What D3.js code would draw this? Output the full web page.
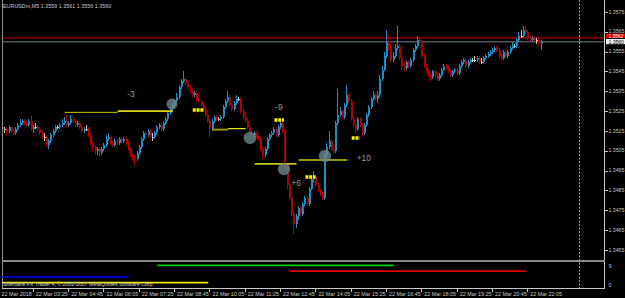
<!DOCTYPE html>
<html><head><meta charset="utf-8">
<script src="https://cdn.jsdelivr.net/npm/d3@7"></script>
<style>html,body{margin:0;padding:0;background:#000;overflow:hidden}</style>
</head><body>
<svg id="c" width="625" height="298"></svg>
<script>
// ---------------- DATA ----------------
const symbolLabel = "EURUSDm,M5";
const lastBarOHLC = "1.3559 1.3561 1.3556 1.3560";
const footerText = "Sberbank FX Trader 4, \u00A9 2001-2007 MetaQuotes Software Corp.";
const firstBarTime = "02:15";   // time of bar 0, M5 bars
const barMinutes = 5;
// prices in pips (1.3516 -> 13516)
const opens = [
13517,13516,13516,13515,13517,13515,13514,13516,13518,13519,
13520,13519,13518,13520,13516,13517,13517,13516,13514,13512,
13512,13508,13510,13513,13515,13517,13517,13518,13519,13520,
13518,13519,13521,13520,13518,13519,13517,13515,13516,13516,
13513,13509,13507,13505,13506,13504,13506,13508,13511,13512,
13509,13508,13510,13509,13511,13510,13511,13509,13506,13503,
13502,13501,13504,13507,13511,13514,13513,13515,13512,13512,
13514,13517,13518,13516,13519,13521,13524,13526,13528,13530,
13532,13537,13540,13541,13539,13537,13535,13533,13534,13531,
13530,13528,13526,13523,13520,13516,13520,13522,13521,13521,
13522,13527,13530,13532,13528,13526,13529,13531,13531,13525,
13522,13520,13517,13514,13513,13514,13512,13511,13506,13503,
13506,13511,13513,13514,13516,13513,13517,13519,13515,13498,
13488,13481,13473,13468,13472,13476,13473,13478,13481,13478,
13486,13491,13492,13488,13485,13483,13481,13503,13507,13510,
13506,13505,13519,13523,13525,13522,13528,13533,13530,13521,
13518,13516,13521,13518,13514,13518,13523,13527,13531,13533,
13531,13533,13541,13546,13553,13560,13558,13551,13553,13557,
13558,13552,13548,13547,13550,13548,13551,13556,13558,13561,
13560,13553,13548,13545,13543,13542,13545,13543,13541,13543,
13546,13548,13547,13545,13543,13545,13546,13544,13548,13550,
13551,13548,13550,13551,13551,13551,13552,13550,13550,13552,
13553,13554,13555,13556,13557,13556,13553,13552,13555,13553,
13555,13557,13558,13558,13561,13563,13563,13566,13565,13562,
13561,13562,13561,13561,13559];
const highs = [
13518,13517,13517,13518,13517,13516,13517,13519,13521,13521,
13521,13520,13521,13523,13518,13519,13518,13517,13515,13514,
13513,13511,13514,13516,13518,13518,13519,13521,13522,13523,
13520,13523,13522,13521,13520,13520,13518,13517,13518,13517,
13514,13510,13508,13507,13507,13507,13509,13513,13514,13513,
13510,13511,13511,13512,13512,13512,13512,13510,13507,13504,
13503,13505,13508,13512,13515,13515,13516,13516,13514,13515,
13518,13519,13519,13520,13522,13525,13527,13529,13531,13534,
13538,13541,13545,13542,13540,13538,13536,13535,13535,13533,
13531,13529,13527,13524,13521,13521,13523,13523,13522,13523,
13528,13531,13535,13533,13529,13530,13533,13532,13532,13526,
13523,13521,13518,13515,13515,13515,13513,13512,13507,13507,
13512,13514,13515,13517,13517,13518,13521,13520,13516,13499,
13489,13482,13474,13473,13477,13477,13479,13482,13482,13487,
13492,13495,13493,13489,13486,13484,13504,13509,13515,13511,
13507,13520,13536,13527,13526,13529,13538,13534,13531,13522,
13519,13522,13522,13519,13519,13524,13528,13532,13535,13534,
13535,13543,13548,13555,13566,13564,13559,13555,13559,13568,
13559,13553,13550,13551,13551,13552,13557,13559,13563,13562,
13561,13554,13549,13546,13544,13546,13546,13544,13544,13547,
13549,13549,13548,13546,13546,13547,13547,13549,13551,13552,
13552,13551,13552,13552,13553,13553,13553,13552,13553,13554,
13555,13556,13557,13558,13558,13557,13554,13556,13556,13556,
13558,13560,13559,13562,13565,13566,13568,13568,13566,13563,
13563,13563,13562,13562,13561];
const lows = [
13515,13514,13513,13514,13514,13513,13513,13515,13517,13518,
13518,13517,13517,13515,13514,13516,13515,13513,13511,13510,
13507,13506,13509,13512,13514,13516,13516,13517,13518,13517,
13517,13518,13519,13517,13517,13516,13514,13514,13515,13512,
13508,13505,13503,13503,13502,13503,13505,13507,13510,13508,
13507,13507,13508,13508,13509,13509,13508,13505,13502,13500,
13498,13500,13503,13506,13510,13512,13512,13511,13510,13511,
13513,13516,13515,13515,13518,13520,13523,13525,13527,13529,
13531,13536,13539,13538,13536,13534,13532,13532,13530,13529,
13527,13525,13522,13519,13512,13515,13519,13520,13520,13520,
13521,13526,13529,13527,13525,13525,13528,13530,13524,13521,
13519,13516,13513,13512,13512,13511,13510,13505,13501,13502,
13505,13510,13512,13513,13512,13512,13516,13514,13497,13486,
13480,13472,13463,13466,13470,13472,13472,13477,13477,13477,
13485,13489,13487,13484,13482,13480,13480,13502,13506,13505,
13504,13504,13518,13522,13521,13521,13527,13529,13520,13517,
13514,13515,13517,13512,13513,13517,13522,13526,13530,13530,
13529,13532,13540,13545,13552,13556,13550,13550,13552,13556,
13551,13546,13545,13546,13547,13547,13550,13555,13557,13559,
13552,13547,13544,13542,13540,13541,13542,13540,13540,13542,
13545,13546,13544,13542,13542,13544,13543,13543,13547,13549,
13547,13547,13549,13550,13550,13550,13549,13549,13549,13551,
13552,13553,13554,13555,13555,13552,13551,13551,13552,13552,
13554,13556,13557,13557,13560,13562,13562,13564,13561,13560,
13560,13560,13559,13558,13556];
const closes = [
13516,13516,13515,13517,13515,13514,13516,13518,13519,13520,
13519,13518,13520,13516,13517,13517,13516,13514,13512,13512,
13508,13510,13513,13515,13517,13517,13518,13519,13520,13518,
13519,13521,13520,13518,13519,13517,13515,13516,13516,13513,
13509,13507,13505,13506,13504,13506,13508,13511,13512,13509,
13508,13510,13509,13511,13510,13511,13509,13506,13503,13502,
13501,13504,13507,13511,13514,13513,13515,13512,13512,13514,
13517,13518,13516,13519,13521,13524,13526,13528,13530,13532,
13537,13540,13541,13539,13537,13535,13533,13534,13531,13530,
13528,13526,13523,13520,13516,13520,13522,13521,13521,13522,
13527,13530,13532,13528,13526,13529,13531,13531,13525,13522,
13520,13517,13514,13513,13514,13512,13511,13506,13503,13506,
13511,13513,13514,13516,13513,13517,13519,13515,13498,13488,
13481,13473,13468,13472,13476,13473,13478,13481,13478,13486,
13491,13492,13488,13485,13483,13481,13503,13507,13510,13506,
13505,13519,13523,13525,13522,13528,13533,13530,13521,13518,
13516,13521,13518,13514,13518,13523,13527,13531,13533,13531,
13533,13541,13546,13553,13560,13558,13551,13553,13557,13558,
13552,13548,13547,13550,13548,13551,13556,13558,13561,13560,
13553,13548,13545,13543,13542,13545,13543,13541,13543,13546,
13548,13547,13545,13543,13545,13546,13544,13548,13550,13551,
13548,13550,13551,13551,13551,13552,13550,13550,13552,13553,
13554,13555,13556,13557,13556,13553,13552,13555,13553,13555,
13557,13558,13558,13561,13563,13563,13566,13565,13562,13561,
13562,13561,13561,13559,13560];
const askPrice = 1.3562, bidPrice = 1.3560;
const priceTicks = [1.3575,1.3565,1.3555,1.3545,1.3535,1.3525,1.3515,1.3505,1.3495,1.3485,1.3475,1.3465,1.3455];
const timeTickLabels = ["22 Mar 03:25","22 Mar 04:45","22 Mar 06:05","22 Mar 07:25","22 Mar 08:45","22 Mar 10:05","22 Mar 11:25","22 Mar 12:45","22 Mar 14:05","22 Mar 15:25","22 Mar 16:45","22 Mar 18:05","22 Mar 19:25","22 Mar 20:45","22 Mar 22:05"];
const firstDateLabel = "22 Mar 2018";
const daySeparatorTime = "24:00";
// session indicator (sub window)
const sessionLevel = [8, 6, 4, 2];
const sessionStart = ["08:05", "13:05", "00:00", "00:00"];
const sessionEnd   = ["17:00", "22:00", "07:00", "10:00"];
const indicatorTicks = [9, 0];
// drawn objects: [startBar, endBar, price]
const levelLines = [[28,52,1.35244],[52,77,1.35250],[95,102,1.35157],[102,110,1.35162],[114,133,1.34984],[134,156,1.35004]];
const entryCircles = [[76.6,1.35286],[111.9,1.35115],[127.3,1.34958],[145.9,1.35024]];
const markers = [[86,91,1.35256],[123,127.3,1.35205],[137,141.6,1.34918],[158,161.6,1.35115]];
const pipLabels = [["-3",58,1.35337],["-9",125,1.35271],["+6",132.8,1.34888],["+10",163.5,1.35014]];

// ---------------- DRAWING ----------------
const W = 625, H = 298;
const svg = d3.select("#c");
svg.append("rect").attr("width", W).attr("height", H).attr("fill", "#000");
const toMin = s => { const [h, m] = s.split(":").map(Number); return h * 60 + m; };
const barOf = s => (toMin(s) - toMin(firstBarTime)) / barMinutes;

const n = closes.length;
const x = d3.scaleLinear().domain([0, n - 1]).range([2.9, 2.9 + (n - 1) * 2.2076]);
const y = d3.scaleLinear().domain([1.3455, 1.3575]).range([250, 12]);
const yInd = d3.scaleLinear().domain([0, 9]).range([288.5, 262.5]);
const P = v => v / 10000;

const font = "'Liberation Sans', Arial, sans-serif";
const txtCol = "#c8c8c8";

svg.append("defs").append("clipPath").attr("id", "main")
  .append("rect").attr("x", 2).attr("y", 0).attr("width", 602).attr("height", 259);
svg.select("defs").append("clipPath").attr("id", "sub")
  .append("rect").attr("x", 2).attr("y", 262).attr("width", 602).attr("height", 26);

const main = svg.append("g").attr("clip-path", "url(#main)");

// day separator
svg.append("line").attr("x1", Math.round(x(barOf(daySeparatorTime))) + 0.5).attr("x2", Math.round(x(barOf(daySeparatorTime))) + 0.5)
  .attr("y1", 0).attr("y2", 288).attr("stroke", "#a8a8a8").attr("stroke-dasharray", "2,1.5").attr("stroke-width", 1);

// bid / ask lines
main.append("line").attr("x1", 2).attr("x2", 604).attr("y1", y(askPrice)).attr("y2", y(askPrice))
  .attr("stroke", "#b00000").attr("stroke-width", 1.2);
main.append("line").attr("x1", 2).attr("x2", 604).attr("y1", y(bidPrice)).attr("y2", y(bidPrice))
  .attr("stroke", "#4a565e").attr("stroke-width", 1.6);

// candles
const upC = "#1f8cc4", dnC = "#b00000", dojiC = "#c8c8c8";
const bars = d3.range(n).map(i => ({ i, o: P(opens[i]), h: P(highs[i]), l: P(lows[i]), c: P(closes[i]) }));
const col = d => d.c > d.o ? upC : (d.c < d.o ? dnC : dojiC);
const cg = main.append("g").attr("shape-rendering", "crispEdges");
cg.selectAll("rect.w").data(bars).join("rect").attr("class", "w")
  .attr("x", d => Math.round(x(d.i)) - 1).attr("width", 1)
  .attr("y", d => Math.round(y(d.h))).attr("height", d => Math.max(1, Math.round(y(d.l)) - Math.round(y(d.h))))
  .attr("fill", col);
cg.selectAll("rect.b").data(bars).join("rect").attr("class", "b")
  .attr("x", d => Math.round(x(d.i)) - 1).attr("width", 2)
  .attr("y", d => Math.round(y(Math.max(d.o, d.c))))
  .attr("height", d => Math.max(1, Math.round(y(Math.min(d.o, d.c))) - Math.round(y(Math.max(d.o, d.c)))))
  .attr("fill", col);

// level lines
const lineStyles = [["#c8c800",1],["#d8d800",1.6],["#9a9a00",2],["#e4e400",1.2],["#c8c800",1.6],["#c8c800",1.6]];
main.selectAll("line.lvl").data(levelLines).join("line").attr("class", "lvl")
  .attr("x1", d => x(d[0])).attr("x2", d => x(d[1])).attr("y1", d => y(d[2])).attr("y2", d => y(d[2]))
  .attr("stroke", (d, k) => lineStyles[k][0]).attr("stroke-width", (d, k) => lineStyles[k][1]);

// circles
main.selectAll("circle.e").data(entryCircles).join("circle").attr("class", "e")
  .attr("cx", d => x(d[0])).attr("cy", d => y(d[1])).attr("r", (d, k) => k === 0 ? 5.5 : 6.2)
  .attr("fill", "#6c8a8a").attr("fill-opacity", 0.78);

// markers
main.selectAll("line.m").data(markers).join("line").attr("class", "m")
  .attr("x1", d => x(d[0])).attr("x2", d => x(d[1])).attr("y1", d => y(d[2])).attr("y2", d => y(d[2]))
  .attr("stroke", "#f4f400").attr("stroke-width", 3.5).attr("stroke-dasharray", "3,0.8");

// pip labels
main.selectAll("text.pl").data(pipLabels).join("text").attr("class", "pl")
  .attr("x", d => x(d[1])).attr("y", d => y(d[2]) + 3).attr("text-anchor", "middle")
  .attr("font-family", font).attr("font-size", 8.5).attr("fill", "#9a9a9a").text(d => d[0]);

// frame
const fr = svg.append("g").attr("shape-rendering", "crispEdges");
fr.append("line").attr("x1", 2.5).attr("x2", 2.5).attr("y1", 0).attr("y2", 288).attr("stroke", "#909090");
fr.append("line").attr("x1", 604.5).attr("x2", 604.5).attr("y1", 0).attr("y2", 289).attr("stroke", "#c8c8c8");
fr.append("line").attr("x1", 2).attr("x2", 605).attr("y1", 288.5).attr("y2", 288.5).attr("stroke", "#c8c8c8");
fr.append("rect").attr("x", 2).attr("y", 259.5).attr("width", 603).attr("height", 2.5).attr("fill", "#8a8a8a");

// price axis
const pa = svg.append("g");
pa.selectAll("line").data(priceTicks).join("line")
  .attr("x1", 605).attr("x2", 608).attr("y1", d => Math.round(y(d)) + 0.5).attr("y2", d => Math.round(y(d)) + 0.5)
  .attr("stroke", "#c8c8c8").attr("shape-rendering", "crispEdges");
pa.selectAll("text").data(priceTicks).join("text")
  .attr("x", 608.5).attr("y", d => y(d) + 1.6).attr("font-family", font).attr("font-size", 5.2).attr("fill", txtCol)
  .text(d => d.toFixed(4));

// bid/ask tags
svg.append("rect").attr("x", 606).attr("y", y(askPrice) - 4.1).attr("width", 19).attr("height", 4.3).attr("fill", "#e00000");
svg.append("text").attr("x", 608.5).attr("y", y(askPrice) - 0.2).attr("font-family", font).attr("font-size", 4.8).attr("fill", "#fff").text(askPrice.toFixed(4));
svg.append("rect").attr("x", 606).attr("y", y(bidPrice) - 2.8).attr("width", 19).attr("height", 5.2).attr("fill", "#f0f0f0");
svg.append("text").attr("x", 608.5).attr("y", y(bidPrice) + 1.8).attr("font-family", font).attr("font-size", 5).attr("fill", "#000").text(bidPrice.toFixed(4));

// time axis
const tickBars = timeTickLabels.map(s => barOf(s.split(" ")[2]));
const ta = svg.append("g");
ta.selectAll("line").data(tickBars).join("line")
  .attr("x1", d => Math.round(x(d)) - 0.5).attr("x2", d => Math.round(x(d)) - 0.5).attr("y1", 289).attr("y2", 292)
  .attr("stroke", "#c8c8c8").attr("shape-rendering", "crispEdges");
ta.selectAll("text").data(timeTickLabels).join("text")
  .attr("x", (d, k) => x(tickBars[k]) + 2).attr("y", 295.8)
  .attr("font-family", font).attr("font-size", 5.4).attr("fill", txtCol).text(d => d);
ta.append("text").attr("x", 1.5).attr("y", 295.8).attr("font-family", font).attr("font-size", 5.4).attr("fill", txtCol).text(firstDateLabel);

// indicator sub window
const sub = svg.append("g").attr("clip-path", "url(#sub)");
const sessColors = ["#00d200", "#e00000", "#0000d8", "#e8e800"];
const sess = sessionLevel.map((lv, k) => ({ lv, a: barOf(sessionStart[k]), b: barOf(sessionEnd[k]), c: sessColors[k] }));
sub.selectAll("line").data(sess).join("line")
  .attr("x1", d => x(d.a)).attr("x2", d => x(d.b)).attr("y1", d => yInd(d.lv)).attr("y2", d => yInd(d.lv))
  .attr("stroke", d => d.c).attr("stroke-width", 1.8);
svg.append("text").attr("x", 3).attr("y", 285.6).attr("font-family", font).attr("font-size", 5.4).attr("fill", txtCol)
  .attr("textLength", 151).text(footerText);
svg.selectAll("text.it").data(indicatorTicks).join("text").attr("class", "it")
  .attr("x", 608.5).attr("y", d => d === 0 ? yInd(d) - 1.5 : yInd(d) + 5.5)
  .attr("font-family", font).attr("font-size", 5.4).attr("fill", txtCol).text(d => d);

// title
svg.append("text").attr("x", 3).attr("y", 7.8).attr("font-family", font).attr("font-size", 5.4).attr("fill", txtCol)
  .text(symbolLabel + "  " + lastBarOHLC);
</script>
</body></html>
